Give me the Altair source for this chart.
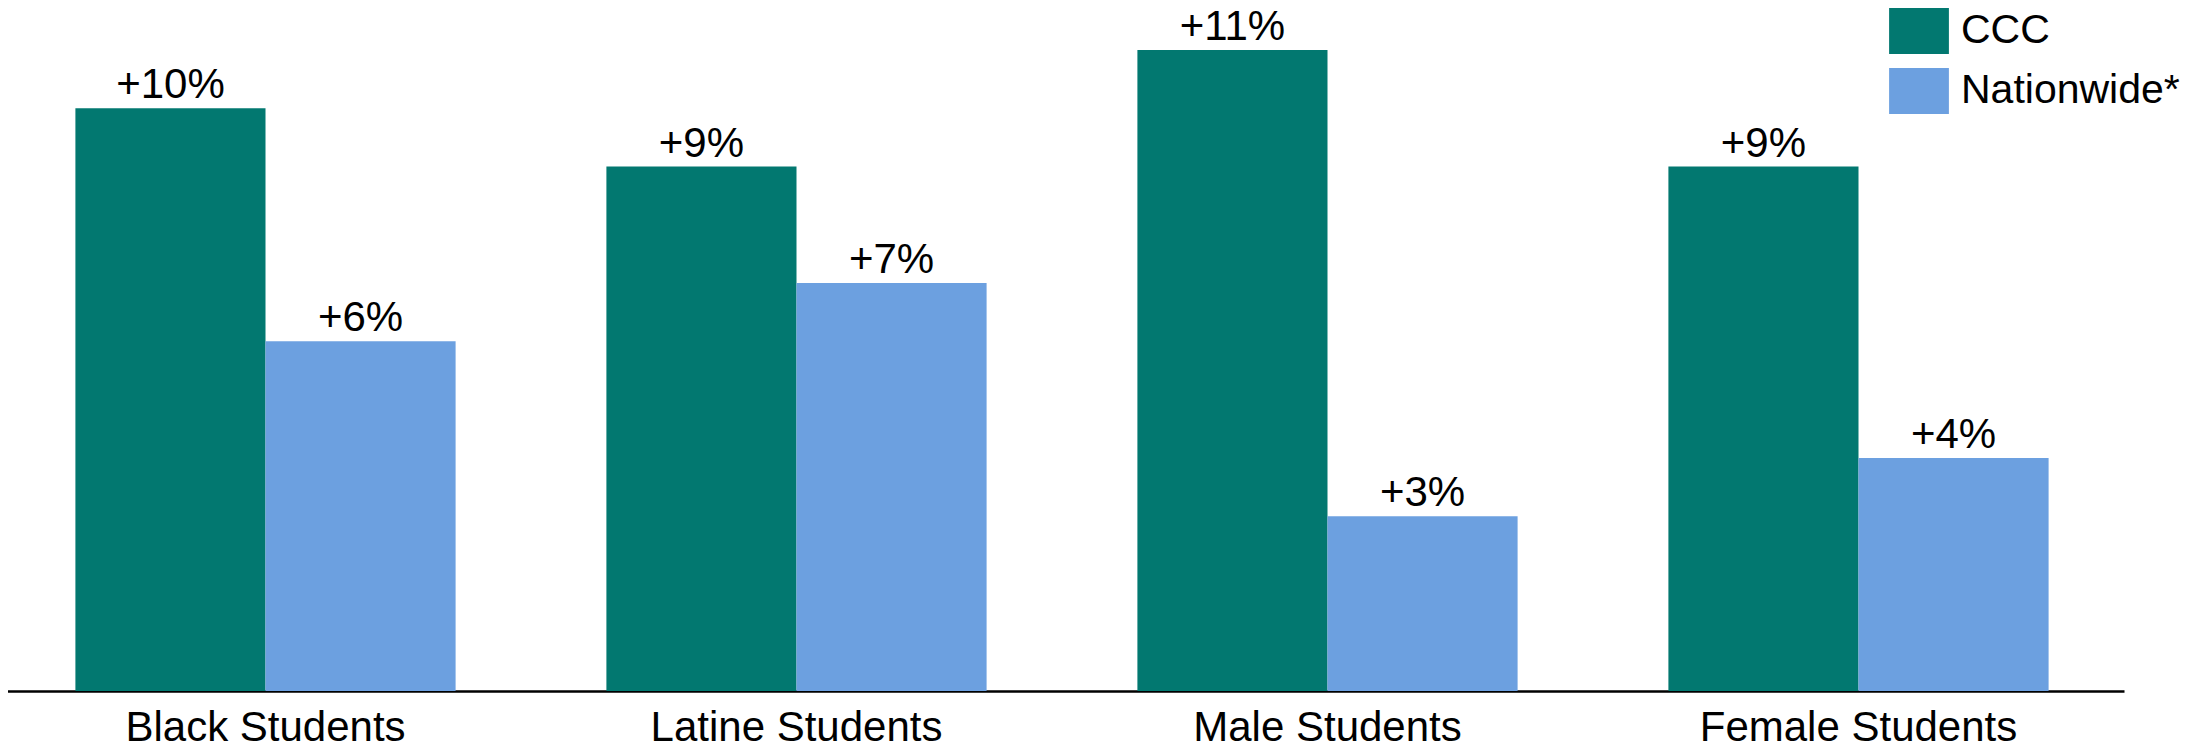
import altair as alt
import pandas as pd

categories = ["Black Students", "Latine Students", "Male Students", "Female Students"]
series = ["CCC", "Nationwide*"]
ccc_values = [10, 9, 11, 9]
nationwide_values = [6, 7, 3, 4]
ccc_labels = ["+10%", "+9%", "+11%", "+9%"]
nationwide_labels = ["+6%", "+7%", "+3%", "+4%"]
colors = ["#027870", "#6CA0E0"]

rows = []
for c, v, l in zip(categories, ccc_values, ccc_labels):
    rows.append({"group": c, "series": "CCC", "value": v, "label": l})
for c, v, l in zip(categories, nationwide_values, nationwide_labels):
    rows.append({"group": c, "series": "Nationwide*", "value": v, "label": l})
df = pd.DataFrame(rows)

FONT = "Liberation Sans"

x = alt.X(
    "group:N",
    sort=categories,
    scale=alt.Scale(paddingInner=0.284, paddingOuter=0.142),
    axis=alt.Axis(
        title=None, labelAngle=0, ticks=False, tickSize=0, grid=False,
        domainColor="#000000", domainWidth=2.5,
        labelFontSize=42, labelFont=FONT, labelColor="#000000",
        labelPadding=16, labelLimit=1000,
    ),
)
xo = alt.XOffset("series:N", sort=series, scale=alt.Scale(paddingInner=0, paddingOuter=0))
y = alt.Y("value:Q", scale=alt.Scale(domain=[0, 11.72], nice=False, zero=True), axis=None)

bars = alt.Chart(df).mark_bar().encode(
    x=x,
    xOffset=xo,
    y=y,
    color=alt.Color(
        "series:N",
        sort=series,
        scale=alt.Scale(domain=series, range=colors),
        legend=alt.Legend(
            title=None, orient="none", legendX=1896, legendY=0,
            symbolType="M-1.3,-1H1.3V1H-1.3Z", symbolSize=2116,
            symbolStrokeWidth=0, symbolOpacity=1,
            labelFontSize=41, labelFont=FONT, labelColor="#000000",
            labelOffset=19, rowPadding=14, labelLimit=1000, padding=0,
        ),
    ),
)

text = alt.Chart(df).mark_text(
    dy=-10, baseline="alphabetic", fontSize=42, font=FONT, color="#000000"
).encode(x=x, xOffset=xo, y=y, text="label:N")

chart = alt.layer(bars, text).properties(
    width=2124,
    height=683,
    padding={"left": -8, "top": 0, "right": 59, "bottom": 59},
    autosize="none",
).configure_view(stroke=None)

chart.save("out.html", embed_options={"renderer": "svg", "actions": False})
